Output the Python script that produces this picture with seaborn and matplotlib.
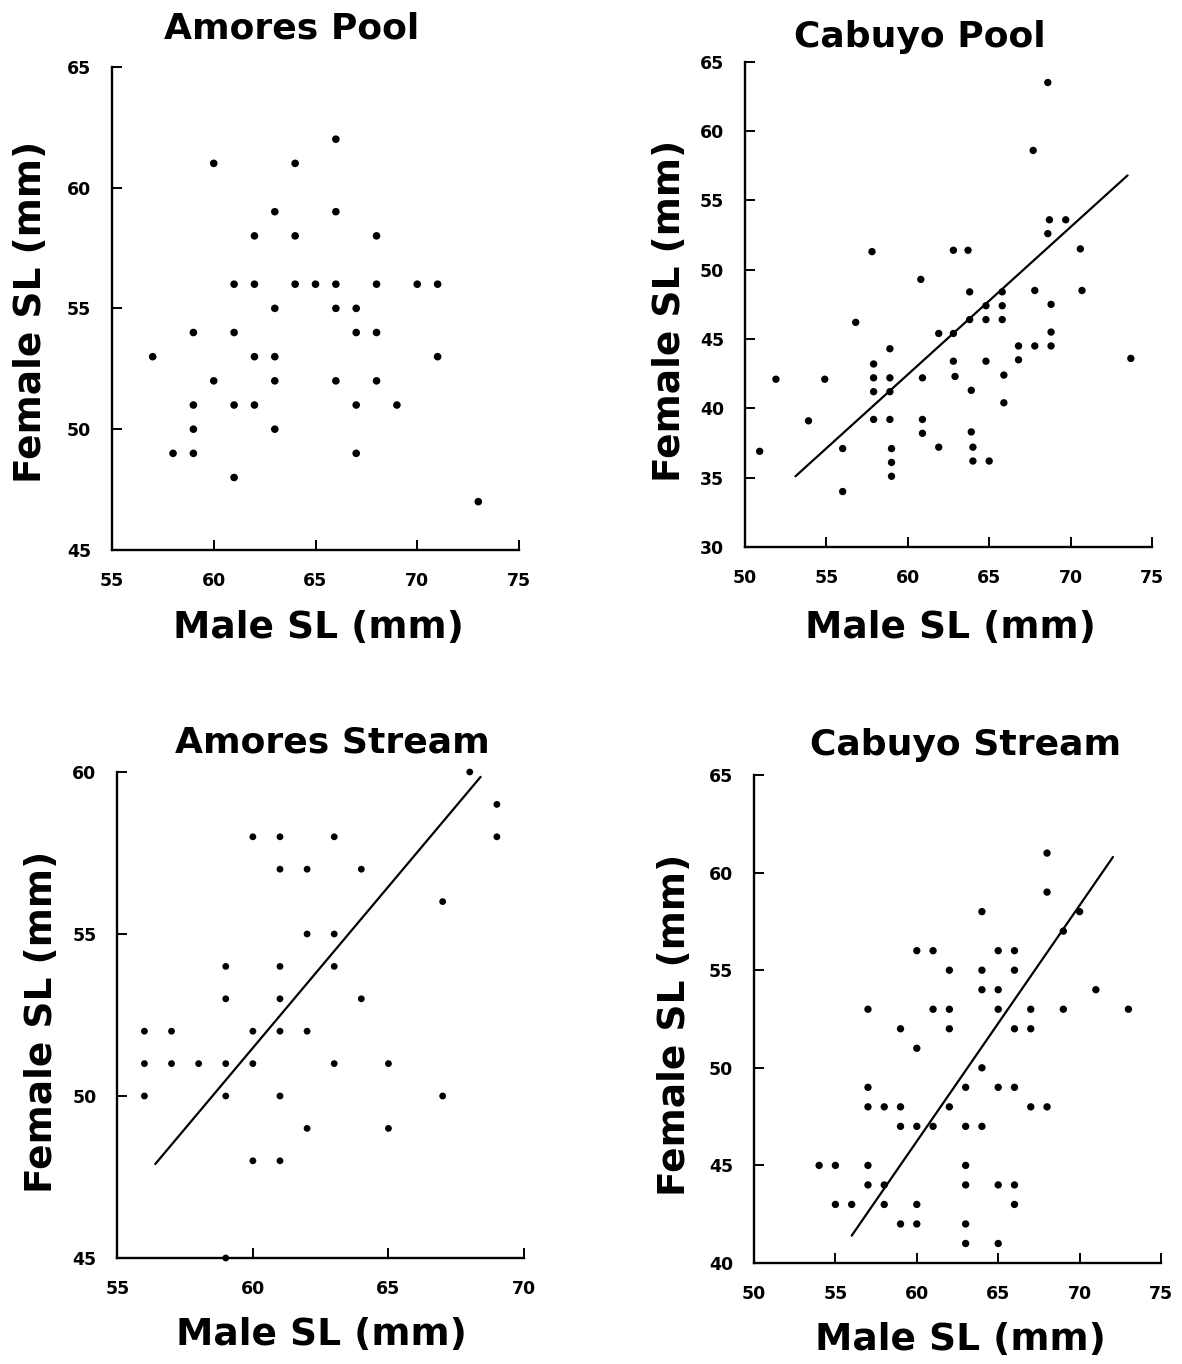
import matplotlib
matplotlib.use("Agg")
import matplotlib.pyplot as plt
import numpy as np
import pandas as pd
import seaborn as sns

# ---- Amores Pool (no fitted line) ----
ap_male = [66, 60, 64, 63, 66, 62, 64, 68,
           61, 62, 64, 65, 66, 68, 70, 71,
           63, 66, 67, 59, 61, 67, 68,
           57, 62, 63, 71, 60, 63, 66, 68,
           59, 61, 62, 67, 69, 59, 63,
           58, 59, 67, 61, 73]
ap_female = [62, 61, 61, 59, 59, 58, 58, 58,
             56, 56, 56, 56, 56, 56, 56, 56,
             55, 55, 55, 54, 54, 54, 54,
             53, 53, 53, 53, 52, 52, 52, 52,
             51, 51, 51, 51, 51, 50, 50,
             49, 49, 49, 48, 47]

# ---- Cabuyo Pool ----
cp_male = [68.6, 67.7, 68.7, 69.7, 68.6,
           57.8, 62.8, 63.7, 70.6, 60.8,
           63.8, 65.8, 67.8, 70.7, 64.8, 65.8, 68.8,
           56.8, 63.8, 64.8, 65.8, 61.9, 62.8, 68.8,
           58.9, 66.8, 67.8, 68.8,
           57.9, 62.8, 64.8, 66.8, 73.7,
           51.9, 54.9, 57.9, 58.9, 60.9, 62.9, 65.9,
           57.9, 58.9, 63.9, 65.9,
           53.9, 57.9, 58.9, 60.9, 60.9, 63.9,
           50.9, 56.0, 59.0, 61.9, 64.0,
           59.0, 64.0, 65.0, 59.0, 56.0]
cp_female = [63.5, 58.6, 53.6, 53.6, 52.6,
             51.3, 51.4, 51.4, 51.5, 49.3,
             48.4, 48.4, 48.5, 48.5, 47.4, 47.4, 47.5,
             46.2, 46.4, 46.4, 46.4, 45.4, 45.4, 45.5,
             44.3, 44.5, 44.5, 44.5,
             43.2, 43.4, 43.4, 43.5, 43.6,
             42.1, 42.1, 42.2, 42.2, 42.2, 42.3, 42.4,
             41.2, 41.2, 41.3, 40.4,
             39.1, 39.2, 39.2, 39.2, 38.2, 38.3,
             36.9, 37.1, 37.1, 37.2, 37.2,
             36.1, 36.2, 36.2, 35.1, 34.0]
cp_fit_male = [53.1, 73.5]
cp_fit_female = [35.1, 56.8]

# ---- Amores Stream ----
as_male = [68, 69, 60, 61, 63, 69,
           61, 62, 64, 67, 62, 63,
           59, 61, 63, 59, 61, 64,
           56, 57, 60, 61, 62,
           56, 57, 58, 59, 60, 63, 65,
           56, 59, 61, 67, 62, 65, 60, 61, 59]
as_female = [60, 59, 58, 58, 58, 58,
             57, 57, 57, 56, 55, 55,
             54, 54, 54, 53, 53, 53,
             52, 52, 52, 52, 52,
             51, 51, 51, 51, 51, 51, 51,
             50, 50, 50, 50, 49, 49, 48, 48, 45]
as_fit_male = [56.4, 68.4]
as_fit_female = [47.9, 59.85]

# ---- Cabuyo Stream ----
cs_male = [68, 68, 64, 70, 69,
           60, 61, 65, 66, 62, 64, 66,
           64, 65, 71,
           57, 61, 62, 65, 67, 69, 73,
           59, 62, 66, 67, 60, 64,
           57, 63, 65, 66,
           57, 58, 59, 62, 67, 68,
           59, 60, 61, 63, 64,
           54, 55, 57, 63,
           57, 58, 63, 65, 66,
           55, 56, 58, 60, 66,
           59, 60, 63, 63, 65]
cs_female = [61, 59, 58, 58, 57,
             56, 56, 56, 56, 55, 55, 55,
             54, 54, 54,
             53, 53, 53, 53, 53, 53, 53,
             52, 52, 52, 52, 51, 50,
             49, 49, 49, 49,
             48, 48, 48, 48, 48, 48,
             47, 47, 47, 47, 47,
             45, 45, 45, 45,
             44, 44, 44, 44, 44,
             43, 43, 43, 43, 43,
             42, 42, 42, 41, 41]
cs_fit_male = [56.0, 72.05]
cs_fit_female = [41.4, 60.8]

# ---- axis settings ----
ap_xticks, ap_yticks = [55, 60, 65, 70, 75], [45, 50, 55, 60, 65]
cp_xticks, cp_yticks = [50, 55, 60, 65, 70, 75], [30, 35, 40, 45, 50, 55, 60, 65]
as_xticks, as_yticks = [55, 60, 65, 70], [45, 50, 55, 60]
cs_xticks, cs_yticks = [50, 55, 60, 65, 70, 75], [40, 45, 50, 55, 60, 65]

sns.set_theme(style="ticks")
plt.rcParams["font.family"] = ["DejaVu Sans"]

W, H = 1182, 1364
fig = plt.figure(figsize=(W / 100, H / 100), dpi=100)


def px_axes(x0, x1, ytop, ybot):
    return fig.add_axes([x0 / W, 1 - ybot / H, (x1 - x0) / W, (ybot - ytop) / H])


panels = [
    dict(title="Amores Pool", box=(112, 519, 66.7, 550),
         x=ap_male, y=ap_female, fit=None,
         xt=ap_xticks, yt=ap_yticks, s=30,
         title_pos=(0.442, 1.059), xl=(0.506, -0.161), yl=(-0.200, 0.492)),
    dict(title="Cabuyo Pool", box=(745, 1152, 61.7, 547),
         x=cp_male, y=cp_female, fit=(cp_fit_male, cp_fit_female),
         xt=cp_xticks, yt=cp_yticks, s=28,
         title_pos=(0.430, 1.030), xl=(0.504, -0.167), yl=(-0.184, 0.486)),
    dict(title="Amores Stream", box=(117.3, 524, 772, 1258),
         x=as_male, y=as_female, fit=(as_fit_male, as_fit_female),
         xt=as_xticks, yt=as_yticks, s=24,
         title_pos=(0.528, 1.041), xl=(0.501, -0.158), yl=(-0.185, 0.486)),
    dict(title="Cabuyo Stream", box=(754, 1161, 775, 1263),
         x=cs_male, y=cs_female, fit=(cs_fit_male, cs_fit_female),
         xt=cs_xticks, yt=cs_yticks, s=28,
         title_pos=(0.521, 1.041), xl=(0.506, -0.158), yl=(-0.194, 0.488)),
]

for p in panels:
    ax = px_axes(*p["box"])
    df = pd.DataFrame({"male": p["x"], "female": p["y"]})
    sns.scatterplot(data=df, x="male", y="female", ax=ax, color="black",
                    s=p["s"], edgecolor="none", linewidth=0, clip_on=False)
    if p["fit"] is not None:
        fit = pd.DataFrame({"male": p["fit"][0], "female": p["fit"][1]})
        sns.lineplot(data=fit, x="male", y="female", ax=ax, color="black",
                     linewidth=1.6, estimator=None, sort=False)
    ax.set_xlim(p["xt"][0], p["xt"][-1])
    ax.set_ylim(p["yt"][0], p["yt"][-1])
    ax.set_xticks(p["xt"])
    ax.set_yticks(p["yt"])
    ax.set_xticklabels([str(v) for v in p["xt"]], fontsize=12.5, fontweight="heavy")
    ax.set_yticklabels([str(v) for v in p["yt"]], fontsize=12.5, fontweight="heavy")
    ax.tick_params(axis="both", direction="in", length=7, width=1.4,
                   color="black", labelcolor="black")
    ax.tick_params(axis="x", pad=16)
    ax.tick_params(axis="y", pad=15)
    sns.despine(ax=ax)
    for side in ("left", "bottom"):
        ax.spines[side].set_linewidth(1.7)
        ax.spines[side].set_color("black")
    ax.set_facecolor("white")

    ax.set_xlabel("Male SL (mm)", fontsize=27, fontweight="bold",
                  va="center", ha="center", color="black")
    ax.xaxis.set_label_coords(*p["xl"])
    ax.set_ylabel("Female SL (mm)", fontsize=27, fontweight="bold",
                  va="center", ha="center", color="black")
    ax.yaxis.set_label_coords(*p["yl"])
    ax.text(p["title_pos"][0], p["title_pos"][1], p["title"],
            transform=ax.transAxes, ha="center", va="baseline",
            fontsize=26, fontweight="bold", color="black")

fig.savefig("out.png", dpi=100, facecolor="white")
